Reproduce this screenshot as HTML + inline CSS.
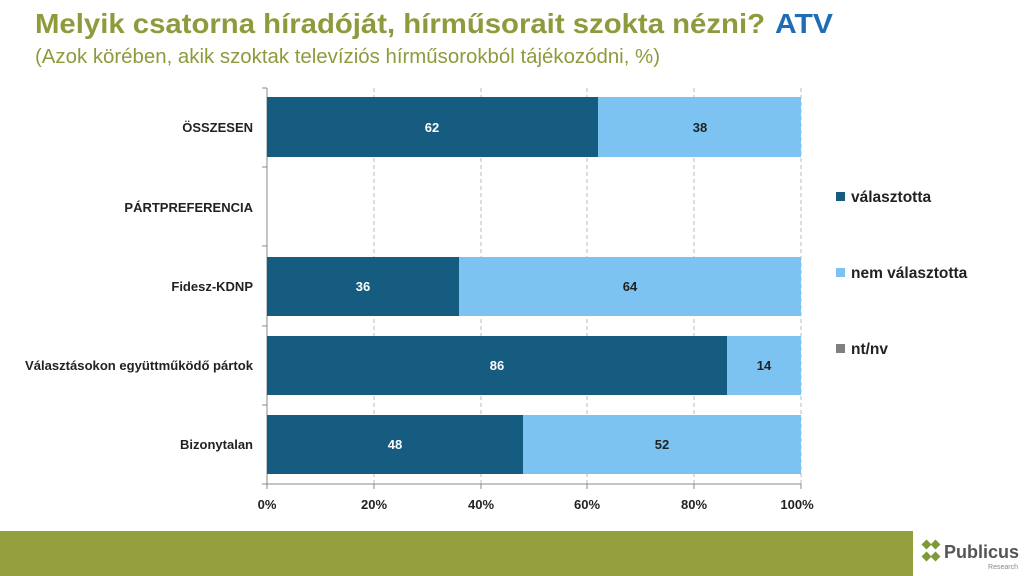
<!DOCTYPE html>
<html><head><meta charset="utf-8"><style>
html,body{margin:0;padding:0;background:#fff;}
svg{display:block;font-family:"Liberation Sans",sans-serif;}
</style></head><body>
<svg width="1024" height="576" viewBox="0 0 1024 576">
<text x="35" y="33" font-size="28" font-weight="bold" fill="#8f9a3c" textLength="730" lengthAdjust="spacingAndGlyphs">Melyik csatorna híradóját, hírműsorait szokta nézni?</text>
<text x="775" y="33" font-size="28" font-weight="bold" fill="#1f6eb5" textLength="58" lengthAdjust="spacingAndGlyphs">ATV</text>
<text x="35" y="63" font-size="20" fill="#8f9a3c" textLength="625" lengthAdjust="spacingAndGlyphs">(Azok körében, akik szoktak televíziós hírműsorokból tájékozódni, %)</text>
<g stroke="#bbb" stroke-dasharray="4,3" stroke-width="1">
<line x1="374" y1="88" x2="374" y2="484"/><line x1="481" y1="88" x2="481" y2="484"/>
<line x1="587" y1="88" x2="587" y2="484"/><line x1="694" y1="88" x2="694" y2="484"/><line x1="801" y1="88" x2="801" y2="484"/>
</g>
<g stroke="#888" stroke-width="1">
<line x1="267" y1="88" x2="267" y2="484"/><line x1="267" y1="484" x2="801" y2="484"/>
<line x1="262" y1="88" x2="267" y2="88"/><line x1="262" y1="167" x2="267" y2="167"/><line x1="262" y1="246" x2="267" y2="246"/>
<line x1="262" y1="326" x2="267" y2="326"/><line x1="262" y1="405" x2="267" y2="405"/><line x1="262" y1="484" x2="267" y2="484"/>
<line x1="374" y1="484" x2="374" y2="489"/><line x1="481" y1="484" x2="481" y2="489"/><line x1="587" y1="484" x2="587" y2="489"/><line x1="694" y1="484" x2="694" y2="489"/><line x1="801" y1="484" x2="801" y2="489"/><line x1="267" y1="484" x2="267" y2="489"/>
</g>
<g>
<rect x="267" y="97" width="331" height="60" fill="#165b80"/><rect x="598" y="97" width="203" height="60" fill="#7cc3f2"/>
<rect x="267" y="257" width="192" height="59" fill="#165b80"/><rect x="459" y="257" width="342" height="59" fill="#7cc3f2"/>
<rect x="267" y="336" width="460" height="59" fill="#165b80"/><rect x="727" y="336" width="74" height="59" fill="#7cc3f2"/>
<rect x="267" y="415" width="256" height="59" fill="#165b80"/><rect x="523" y="415" width="278" height="59" fill="#7cc3f2"/>
</g>
<g font-size="13" font-weight="bold" text-anchor="middle">
<text x="432" y="132" fill="#fff">62</text><text x="700" y="132" fill="#222">38</text>
<text x="363" y="291" fill="#fff">36</text><text x="630" y="291" fill="#222">64</text>
<text x="497" y="370" fill="#fff">86</text><text x="764" y="370" fill="#222">14</text>
<text x="395" y="449" fill="#fff">48</text><text x="662" y="449" fill="#222">52</text>
</g>
<g font-size="13" font-weight="bold" text-anchor="end" fill="#222">
<text x="253" y="132">ÖSSZESEN</text>
<text x="253" y="212">PÁRTPREFERENCIA</text>
<text x="253" y="291">Fidesz-KDNP</text>
<text x="253" y="370" textLength="228" lengthAdjust="spacingAndGlyphs">Választásokon együttműködő pártok</text>
<text x="253" y="449">Bizonytalan</text>
</g>
<g font-size="13" font-weight="bold" text-anchor="middle" fill="#222">
<text x="267" y="509">0%</text><text x="374" y="509">20%</text><text x="481" y="509">40%</text><text x="587" y="509">60%</text><text x="694" y="509">80%</text><text x="797" y="509">100%</text>
</g>
<g font-size="15.5" font-weight="bold" fill="#222">
<rect x="836" y="192" width="9" height="9" fill="#165b80"/><text x="851" y="202">választotta</text>
<rect x="836" y="268" width="9" height="9" fill="#7cc3f2"/><text x="851" y="278">nem választotta</text>
<rect x="836" y="344" width="9" height="9" fill="#808080"/><text x="851" y="354">nt/nv</text>
</g>
<rect x="0" y="531" width="913" height="45" fill="#94a03e"/>
<g fill="#7d9a3a">
<rect x="923" y="541" width="7" height="7" transform="rotate(45 926.5 544.5)"/>
<rect x="932" y="541" width="7" height="7" transform="rotate(45 935.5 544.5)"/>
<rect x="923" y="553" width="7" height="7" transform="rotate(45 926.5 556.5)"/>
<rect x="932" y="553" width="7" height="7" transform="rotate(45 935.5 556.5)"/>
</g>
<text x="944" y="558" font-size="18" font-weight="bold" fill="#555">Publicus</text>
<text x="1018" y="569" font-size="7" fill="#888" text-anchor="end">Research</text>
</svg>
</body></html>
